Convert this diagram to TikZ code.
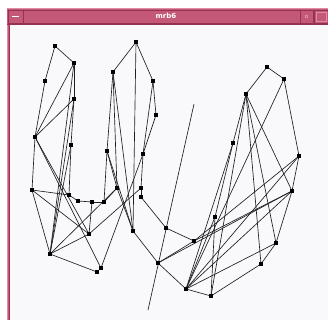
\documentclass[tikz,border=0pt]{standalone}
\usepackage{fontspec}
\setmainfont{DejaVu Sans}
\usetikzlibrary{backgrounds}
\definecolor{frame}{RGB}{196,88,120}
\definecolor{framedk}{RGB}{150,50,80}
\definecolor{framelt}{RGB}{222,140,165}
\definecolor{client}{RGB}{249,249,251}
\definecolor{edge}{RGB}{30,30,30}
\tikzset{
  nd/.style={rectangle, fill=black, minimum size=4pt, inner sep=0pt},
  ed/.style={draw=edge, line width=0.65pt},
}
\begin{document}
\begin{tikzpicture}[x=1pt,y=-1pt]
\useasboundingbox (0,0) rectangle (328,320);
% left cluster
\node[nd] (a1) at (55,46) {};
\node[nd] (a2) at (74,63) {};
\node[nd] (a3) at (45,81) {};
\node[nd] (a4) at (74,99) {};
\node[nd] (a5) at (35,137) {};
\node[nd] (a6) at (71,145) {};
\node[nd] (a7) at (32,190) {};
\node[nd] (a8) at (69,195) {};
\node[nd] (a9) at (78,201) {};
\node[nd] (a10) at (92,202) {};
\node[nd] (a11) at (104,202) {};
\node[nd] (a12) at (89,234) {};
\node[nd] (a13) at (50,254) {};
\node[nd] (a14) at (101,268) {};
\node[nd] (a15) at (97,272) {};
% middle cluster
\node[nd] (b1) at (136,42) {};
\node[nd] (b2) at (113,72) {};
\node[nd] (b3) at (153,81) {};
\node[nd] (b4) at (156,115) {};
\node[nd] (b5) at (107,151) {};
\node[nd] (b6) at (143,154) {};
\node[nd] (b7) at (117,188) {};
\node[nd] (b8) at (141,188) {};
\node[nd] (b9) at (141,197) {};
\node[nd] (b10) at (133,231) {};
\node[nd] (b11) at (166,228) {};
\node[nd] (b12) at (158,263) {};
\node[nd] (b13) at (194,241) {};
\node[nd] (b14) at (186,289) {};
\node[nd] (b15) at (211,296) {};
% right cluster
\node[nd] (c1) at (267,67) {};
\node[nd] (c2) at (284,79) {};
\node[nd] (c3) at (246,94) {};
\node[nd] (c4) at (233,143) {};
\node[nd] (c5) at (299,156) {};
\node[nd] (c6) at (292,191) {};
\node[nd] (c7) at (215,217) {};
\node[nd] (c8) at (276,243) {};
\node[nd] (c9) at (261,264) {};
% free line ends
\coordinate (l1) at (194,104);
\coordinate (l2) at (148,310);

\begin{scope}[on background layer]
\fill[white] (0,0) rectangle (328,320);
\fill[client] (10,25) rectangle (328,320);
% left frame
\fill[frame] (6.5,24) rectangle (10,320);
\draw[framelt, line width=0.6pt] (7.2,25) -- (7.2,320);
\draw[framedk, line width=0.6pt] (9.6,25) -- (9.6,320);
% title bar
\fill[frame] (7,8) rectangle (328,25);
\draw[framelt, line width=0.6pt] (7,8.5) -- (328,8.5);
\draw[framedk, line width=0.6pt] (7,24.5) -- (328,24.5);
\draw[framedk, line width=0.5pt] (8,10) rectangle (23,23);
\draw[white, line width=0.9pt] (12,16.5) -- (19,16.5);
\draw[framedk, line width=0.5pt] (23,10) rectangle (300,23);
\draw[framedk, line width=0.5pt] (300,10) rectangle (313,23);
\draw[framelt, line width=0.5pt] (305.5,15) rectangle (307.5,17);
\draw[framedk, line width=0.5pt] (314,10) rectangle (328,23);
\draw[framelt, line width=0.5pt] (316,12) rectangle (326,21);
\node[text=white, font=\bfseries\fontsize{7}{8}\selectfont] (title) at (166,16.3) {mrb6};
\foreach \u/\v in {a1/a2,a1/a3,a3/a5,a2/a4,a2/a5,a4/a5,a4/a6,a2/a13,a4/a13,a6/a13,
  a5/a7,a7/a8,a7/a12,a7/a13,a5/a12,a5/a14,a6/a8,a8/a9,a9/a10,a10/a11,a10/a12,
  a12/a13,a13/a15,a14/a15,a13/b7,a12/b8,a11/b7,
  b1/b2,b1/b3,b1/b10,b2/b5,b2/b10,b2/b7,b3/b4,b3/b6,b4/b6,b5/b7,b5/a11,b5/b10,
  b7/b10,b6/b8,b8/b9,b9/b11,b10/b12,b11/b13,b12/b13,b12/b14,b14/b15,b12/c6,b6/a14,
  c1/c2,c1/c3,c2/c5,c2/b14,c3/c4,c3/c6,c3/c8,c3/c9,c3/b15,c4/c7,c4/b14,c7/b15,
  c5/c6,c5/b13,c6/b13,c6/c8,c8/c9,c9/b15,b14/c5,b14/c6,b14/c8,b14/c7}
  \draw[ed] (\u.center) -- (\v.center);
\draw[ed] (l1) -- (l2);
\end{scope}
\end{tikzpicture}
\end{document}
